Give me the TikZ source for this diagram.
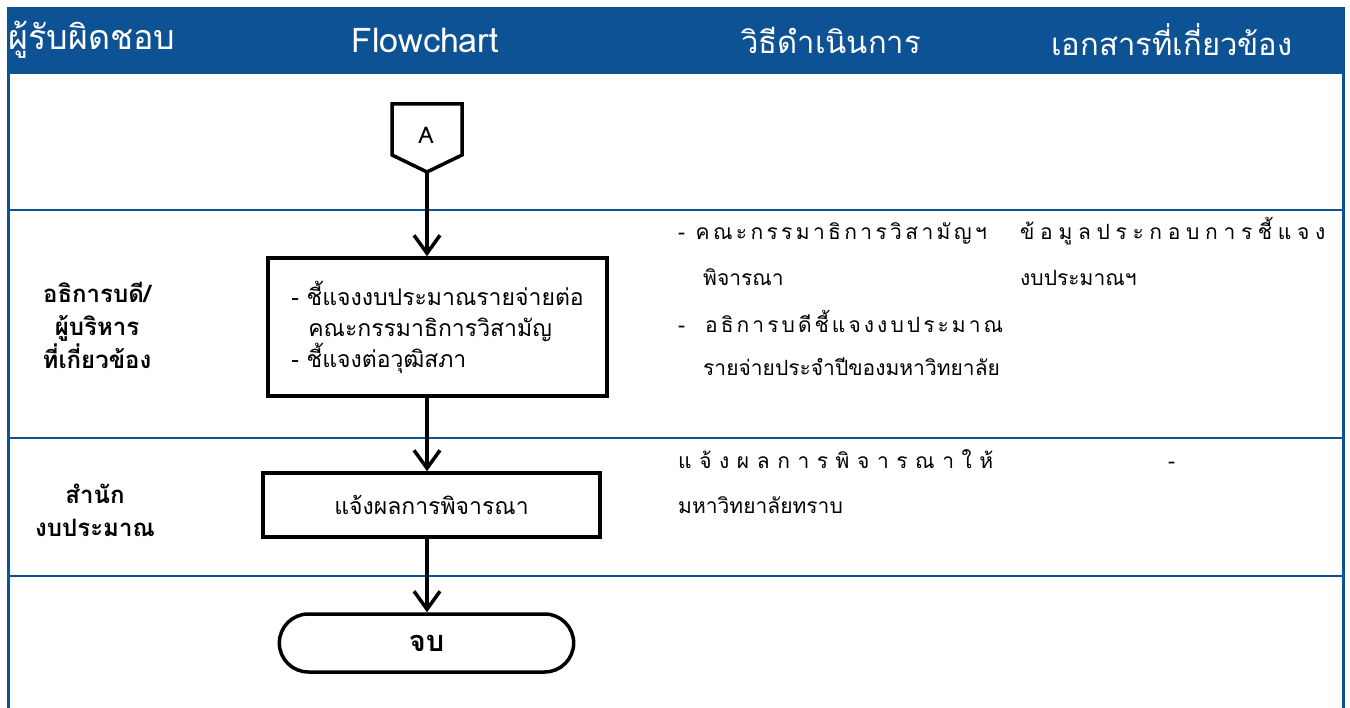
\documentclass[tikz,border=0pt]{standalone}
\usepackage{fontspec}
\setmainfont[Script=Thai]{Loma}
\newcommand{\spreadtext}[2]{{\addfontfeature{LetterSpace=#1}#2}}
\usetikzlibrary{arrows.meta,shapes.misc}
\definecolor{headblue}{RGB}{13,82,148}
\tikzset{
  frameline/.style={draw=headblue, line width=2.5},
  headtext/.style={text=white, font=\fontsize{34}{38}\selectfont},
  roletext/.style={font=\bfseries\fontsize{24}{33}\selectfont, align=center},
  procbox/.style={draw, line width=3.5, fill=white, font=\fontsize{23}{31}\selectfont},
  endbox/.style={draw, line width=3.5, rounded rectangle, font=\bfseries\fontsize{29}{32}\selectfont},
  flowarr/.style={line width=3.5, -{Straight Barb[length=18,width=26,line width=3.5]}},
  methtext/.style={anchor=base west, inner sep=0, font=\fontsize{21}{24}\selectfont}
}
\begin{document}
\begin{tikzpicture}[x=1pt,y=-1pt]
  \useasboundingbox (0,0) rectangle (1350,708);
  %% header band and the frame of the table
  \fill[headblue] (7,7) rectangle (1345,74);
  \draw[frameline, line width=3] (8.5,7) -- (8.5,708);
  \draw[frameline, line width=3] (1343.5,7) -- (1343.5,708);
  \draw[frameline] (8,210) -- (1344,210);
  \draw[frameline] (8,438) -- (1344,438);
  \draw[frameline] (8,576) -- (1344,576);
  \node[headtext] (hdrOwner) at (92,40) {ผู้รับผิดชอบ};
  \node[headtext] (hdrFlow) at (425,40) {Flowchart};
  \node[headtext, font=\fontsize{31}{36}\selectfont] (hdrMethod) at (831,40) {วิธีดำเนินการ};
  \node[headtext, font=\fontsize{31}{36}\selectfont] (hdrDocs) at (1172,40) {เอกสารที่เกี่ยวข้อง};
  %% who is responsible
  \node[roletext] (roleExec) at (97,325) {อธิการบดี/\\ผู้บริหาร\\ที่เกี่ยวข้อง};
  \node[roletext] (roleBudget) at (95,510) {สำนัก\\งบประมาณ};
  %% the flowchart itself
  \draw[line width=3.5] (392,104) -- (462,104) -- (462,155) -- (427,172) -- (392,155) -- cycle;
  \coordinate (conTip) at (427,172);
  \node[font=\fontsize{23}{26}\selectfont] (conA) at (426,135) {A};
  \node[procbox, minimum width=339, minimum height=138, align=left] (explain) at (437.5,327)
    {- ชี้แจงงบประมาณรายจ่ายต่อ\\\hspace*{17pt}คณะกรรมาธิการวิสามัญ\\- ชี้แจงต่อวุฒิสภา};
  \node[procbox, minimum width=337, minimum height=64] (notify) at (431.5,505) {แจ้งผลการพิจารณา};
  \node[endbox, minimum width=301, minimum height=58] (finish) at (426.5,643) {จบ};
  \draw[flowarr] (conTip) -- (conTip |- explain.north);
  \draw[flowarr] (conTip |- explain.south) -- (conTip |- notify.north);
  \draw[flowarr] (conTip |- notify.south) -- (conTip |- finish.north);
  %% how it is done
  \node[methtext] (meth1) at (678,240) {\spreadtext{16}{- คณะกรรมาธิการวิสามัญฯ}};
  \node[methtext] (meth2) at (703,286) {พิจารณา};
  \node[methtext] (meth3) at (678,333) {\spreadtext{14.5}{-\hspace{20pt}อธิการบดีชี้แจงงบประมาณ}};
  \node[methtext] (meth4) at (703,376) {รายจ่ายประจำปีของมหาวิทยาลัย};
  \node[methtext] (meth5) at (678,469) {\spreadtext{36}{แจ้งผลการพิจารณาให้}};
  \node[methtext] (meth6) at (678,513) {มหาวิทยาลัยทราบ};
  %% documents
  \node[methtext] (docs1) at (1020,240) {\spreadtext{27}{ข้อมูลประกอบการชี้แจง}};
  \node[methtext] (docs2) at (1020,286) {งบประมาณฯ};
  \node[methtext] (docs3) at (1168,469) {-};
\end{tikzpicture}
\end{document}
